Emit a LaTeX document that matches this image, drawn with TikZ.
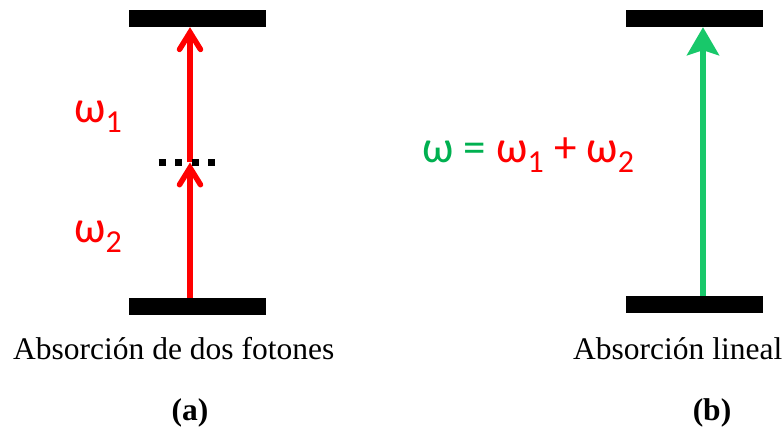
\documentclass[tikz,border=0pt]{standalone}
\usepackage{fontspec}
\setmainfont{Liberation Serif}
\newfontfamily\calib{Carlito}
\usepackage{xcolor}
\usetikzlibrary{arrows.meta}

\definecolor{eqgreen}{RGB}{0,176,80}
\definecolor{arrgreen}{RGB}{24,200,106}

% omega with a lowered index, in the label font
\newcommand{\wsub}[1]{ω\raisebox{-9.5pt}{\fontsize{32}{32}\selectfont #1}}

\begin{document}
\begin{tikzpicture}[
  x=1pt, y=-1pt,
  every node/.style={align=center},
  lvl/.style={fill=black, inner sep=0pt, minimum width=137pt, minimum height=17pt},
  redarr/.style={draw=red, line width=5.5pt,
    -{Straight Barb[length=17pt,width=21pt,line cap=round]}},
  greenarr/.style={draw=arrgreen, line width=5.5pt,
    -{Stealth[length=28pt,width=32pt,inset=5pt]}},
  dots/.style={line width=7pt, dash pattern=on 7pt off 9.5pt},
  lbl/.style={font=\calib\fontsize{45}{45}\selectfont, anchor=base west, inner sep=0pt},
  captxt/.style={font=\fontsize{31.5}{31.5}\selectfont, anchor=base west, inner sep=0pt},
  tag/.style={font=\fontsize{31.5}{31.5}\selectfont\bfseries}
]
\useasboundingbox (0,0) rectangle (782,435);

% (a) two-photon absorption
\node[lvl] (upA) at (197.5,18.5) {};
\node[lvl] (lowA) at (197.5,306.5) {};
\node[minimum width=56.5pt, minimum height=7pt, inner sep=0pt] (virt) at (187,162.5) {};

\draw[redarr] ([xshift=-7.5pt]lowA.north) -- ([xshift=3pt]virt.center);
\draw[redarr] ([xshift=3pt]virt.center) -- ([xshift=-7.5pt]upA.south);
\draw[dots] (virt.west) -- (virt.east);

\node[lbl, text=red] (w1) at (74,123) {\wsub{1}};
\node[lbl, text=red] (w2) at (74,243) {\wsub{2}};

\node[captxt] (capA) at (13,360) {Absorción de dos fotones};
\node[tag] (tagA) at (190,413) {(a)};

% (b) linear absorption
\node[lvl] (upB) at (694.5,18.5) {};
\node[lvl] (lowB) at (694.5,304.5) {};

\draw[greenarr] ([xshift=8.5pt]lowB.north) -- ([xshift=8.5pt]upB.south);

\node[lbl] (eq) at (422,163) {\textcolor{eqgreen}{ω = }\textcolor{red}{\wsub{1} + \wsub{2}}};

\node[captxt] (capB) at (573,360) {Absorción lineal};
\node[tag] (tagB) at (712,413) {(b)};

\end{tikzpicture}
\end{document}
